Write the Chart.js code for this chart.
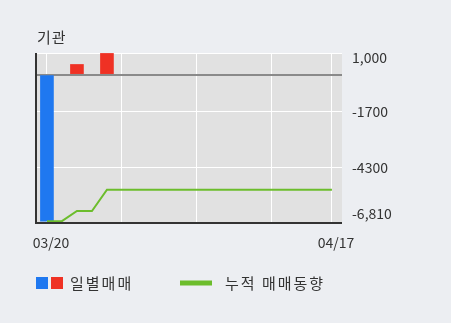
<!DOCTYPE html>
<html>
<head>
<meta charset="utf-8">
<script src="https://cdn.jsdelivr.net/npm/chart.js@4/dist/chart.umd.min.js"></script>
<style>
    body { margin: 0; background: #eceef2; }
    canvas { display: block; }
</style>
</head>
<body>
<canvas id="instChart" width="451" height="323"></canvas>
<script>
var chartTitle = '기관';
var dates = ['03/20', '03/21', '03/22', '03/25', '03/26', '03/27', '03/28', '03/29', '04/01', '04/02',
             '04/03', '04/04', '04/05', '04/08', '04/09', '04/11', '04/12', '04/15', '04/16', '04/17'];
var daily = [-6770, 0, 470, 0, 980, 0, 0, 0, 0, 0, 0, 0, 0, 0, 0, 0, 0, 0, 0, 0];
var cumulative = [-6770, -6770, -6300, -6300, -5320, -5320, -5320, -5320, -5320, -5320,
                  -5320, -5320, -5320, -5320, -5320, -5320, -5320, -5320, -5320, -5320];
var yTicks = [1000, -1700, -4300, -6810];
var yTickLabels = ['1,000', '-1700', '-4300', '-6,810'];
var xGridAt = [0, 5, 10, 15, 19];

var textColor = '#333';
var upColor = '#ef3124';
var downColor = '#1f78f0';
Chart.defaults.font.family = "'Noto Sans CJK KR', 'Noto Sans', sans-serif";

/*!
* background, borders, title, right labels, legend
*/
var decor = {
    id: 'decor',
    beforeDraw: function(chart) {
        var a = chart.chartArea, c = chart.ctx;
        c.save();
        c.fillStyle = '#e1e1e1';
        c.fillRect(a.left, a.top, a.right - a.left, a.bottom - a.top);
        c.restore();
    },
    afterDatasetsDraw: function(chart) {
        var a = chart.chartArea, c = chart.ctx;
        c.save();
        // axis lines
        c.strokeStyle = '#333';
        c.lineWidth = 2;
        c.beginPath();
        c.moveTo(a.left, a.top);
        c.lineTo(a.left, a.bottom + 1);
        c.lineTo(a.right, a.bottom + 1);
        c.stroke();
        c.restore();
    },
    afterDraw: function(chart) {
        var a = chart.chartArea, c = chart.ctx, y = chart.scales.y;
        c.save();
        c.fillStyle = textColor;
        c.textBaseline = 'middle';
        c.textAlign = 'left';
        c.font = "15px 'Noto Sans CJK KR'";
        c.letterSpacing = '1px';
        c.fillText(chartTitle, 37, 37);

        // y labels, end ones pulled inside
        c.letterSpacing = '0px';
        c.font = "14px 'Noto Sans CJK KR'";
        yTicks.forEach(function(v, i) {
            var py = y.getPixelForValue(v);
            py = Math.min(Math.max(py, a.top + 5), a.bottom - 8);
            c.fillText(yTickLabels[i], a.right + 10, py);
        });

        // legend
        var ds = chart.data.datasets;
        var ly = 283;
        c.fillStyle = downColor;
        c.fillRect(36, ly - 6, 12, 12);
        c.fillStyle = upColor;
        c.fillRect(51, ly - 6, 12, 12);
        c.fillStyle = textColor;
        c.font = "15px 'Noto Sans CJK KR'";
        c.letterSpacing = '2px';
        c.fillText(ds[1].label, 70, ly);
        c.strokeStyle = ds[0].borderColor;
        c.lineWidth = 5;
        c.beginPath();
        c.moveTo(180, ly);
        c.lineTo(212, ly);
        c.stroke();
        c.fillText(ds[0].label, 225, ly);
        c.restore();
    }
};

if(document.getElementById('instChart')) {
    var ctx = document.getElementById('instChart').getContext('2d');
    var instChart = new Chart(ctx, {
        type: 'bar',
        data: {
            datasets: [{
                type: 'line',
                label: '누적 매매동향',
                data: cumulative.map(function(v, i) { return {x: i, y: v}; }),
                borderColor: '#6cbd2c',
                borderWidth: 2,
                pointRadius: 0,
                tension: 0,
                order: 0
            }, {
                type: 'bar',
                label: '일별매매',
                data: daily.map(function(v, i) { return {x: i, y: v}; }),
                backgroundColor: daily.map(function(v) {
                    return v < 0 ? downColor : (v > 0 ? upColor : 'rgba(0,0,0,0)');
                }),
                borderWidth: 0,
                barThickness: 13,
                order: 1
            }]
        },
        options: {
            responsive: false,
            animation: false,
            layout: { padding: { left: 36, top: 53, right: 0, bottom: 0 } },
            plugins: {
                legend: { display: false },
                tooltip: { enabled: false }
            },
            scales: {
                x: {
                    type: 'linear',
                    offset: false,
                    min: -0.73,
                    max: 19.67,
                    afterBuildTicks: function(s) {
                        s.ticks = xGridAt.map(function(v) { return {value: v}; });
                    },
                    afterFit: function(s) { s.height = 101; },
                    border: { display: false },
                    grid: { offset: false, color: '#fff', lineWidth: 1, drawTicks: false },
                    ticks: {
                        autoSkip: false,
                        maxRotation: 0,
                        padding: 12,
                        labelOffset: 4,
                        color: textColor,
                        font: { size: 14 },
                        callback: function(v) {
                            return (v === 0 || v === dates.length - 1) ? dates[v] : '';
                        }
                    }
                },
                y: {
                    position: 'right',
                    min: -6810,
                    max: 1000,
                    afterBuildTicks: function(s) {
                        s.ticks = [1000, 0, -1700, -4300, -6810].map(function(v) { return {value: v}; });
                    },
                    afterFit: function(s) { s.width = 109; },
                    border: { display: false },
                    grid: {
                        drawTicks: false,
                        color: function(c) { return c.tick && c.tick.value === 0 ? '#8a8a8a' : '#fff'; },
                        lineWidth: function(c) { return c.tick && c.tick.value === 0 ? 2 : 1; }
                    },
                    ticks: { display: false }
                }
            }
        },
        plugins: [decor]
    });
}
</script>
</body>
</html>
